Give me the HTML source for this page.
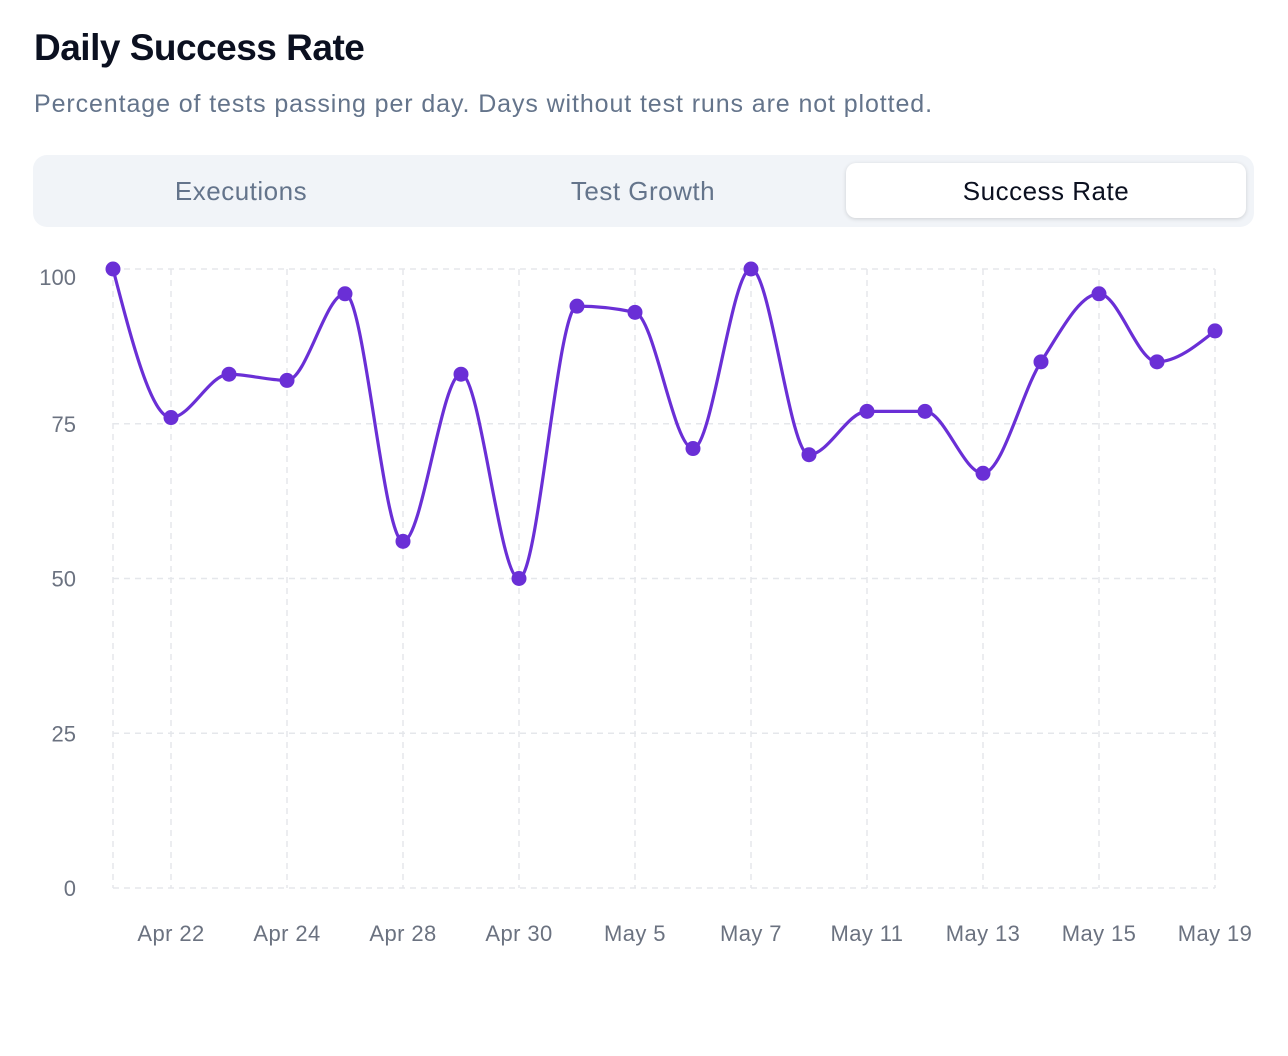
<!DOCTYPE html>
<html><head><meta charset="utf-8"><style>
body{margin:0;background:#fff;font-family:"Liberation Sans",sans-serif;width:1288px;height:1056px;overflow:hidden;position:relative}
h1{position:absolute;left:34px;top:27px;margin:0;font-size:37px;font-weight:bold;color:#0b1020;letter-spacing:-0.5px}
.sub{position:absolute;left:34px;top:90px;font-size:25px;letter-spacing:0.9px;color:#64748b}
.tabs{position:absolute;left:33px;top:155px;width:1221px;height:72px;background:#f1f4f8;border-radius:14px}
.tab{position:absolute;top:8px;height:55px;width:400px;line-height:57px;text-align:center;font-size:26px;letter-spacing:0.5px;color:#64748b;border-radius:10px}
.tab.active{background:#fff;color:#0b1020;box-shadow:0 1px 4px rgba(0,0,0,0.15)}
svg{position:absolute;left:0;top:0}
</style></head><body>
<h1>Daily Success Rate</h1>
<div class="sub">Percentage of tests passing per day. Days without test runs are not plotted.</div>
<div class="tabs">
<div class="tab" style="left:8px">Executions</div>
<div class="tab" style="left:410px">Test Growth</div>
<div class="tab active" style="left:813px">Success Rate</div>
</div>
<svg id="chart" width="1288" height="1056"></svg>
<script>
const categories=["Apr 21","Apr 22","Apr 23","Apr 24","Apr 26","Apr 28","Apr 29","Apr 30","May 2","May 5","May 6","May 7","May 10","May 11","May 12","May 13","May 14","May 15","May 17","May 19"];
const successValues=[100,76,83,82,96,56,83,50,94,93,71,100,70,77,77,67,85,96,85,90];
const yTicks=[0,25,50,75,100];
const xTickLabels=["Apr 22","Apr 24","Apr 28","Apr 30","May 5","May 7","May 11","May 13","May 15","May 19"];

const svg=document.getElementById('chart');
const NS='http://www.w3.org/2000/svg';
const x0=113,x1=1215,y0=888,y1=269;
const xS=i=>x0+(x1-x0)*i/(categories.length-1);
const yS=v=>y0-(y0-y1)*v/100;
function mk(t,a){const e=document.createElementNS(NS,t);for(const k in a)e.setAttribute(k,a[k]);svg.appendChild(e);return e;}
yTicks.forEach(v=>{
  const l=mk('line',{x1:x0,x2:x1,y1:yS(v),y2:yS(v),stroke:'#e5e7eb','stroke-width':1.5,'stroke-dasharray':'6 5'});
  
  
  const t=mk('text',{x:76,y:yS(v)+8+(v===100?8:0),'text-anchor':'end','font-size':22,fill:'#6b7280'});
  t.textContent=v;
  
  
});
const vx=[0];categories.forEach((c,i)=>{if(xTickLabels.includes(c))vx.push(i)});vx.push(categories.length-1);
[...new Set(vx)].forEach(i=>{
  const l=mk('line',{x1:xS(i),x2:xS(i),y1:y1,y2:y0,stroke:'#e5e7eb','stroke-width':1.5,'stroke-dasharray':'6 5'});
  
  
});
categories.forEach((c,i)=>{
  if(!xTickLabels.includes(c))return;
  const t=mk('text',{x:xS(i),y:941,'text-anchor':'middle','font-size':22,'letter-spacing':0.4,fill:'#6b7280'});
  t.textContent=c;
  
  
});
const P=successValues.map((v,i)=>[xS(i),yS(v)]);
const n=P.length,m=[],d=[];
for(let i=0;i<n-1;i++)d.push((P[i+1][1]-P[i][1])/(P[i+1][0]-P[i][0]));
for(let i=0;i<n;i++){
  if(i==0)m.push(d[0]);else if(i==n-1)m.push(d[n-2]);
  else{const a=d[i-1],b=d[i];if(a*b<=0)m.push(0);else{const h0=P[i][0]-P[i-1][0],h1=P[i+1][0]-P[i][0];const p=(a*h1+b*h0)/(h0+h1);m.push((Math.sign(a)+Math.sign(b))*Math.min(Math.abs(a),Math.abs(b),0.5*Math.abs(p)));}}
}
m[0]=(3*d[0]-m[1])/2; m[n-1]=(3*d[n-2]-m[n-2])/2;
let pd='M'+P[0][0]+','+P[0][1];
for(let i=0;i<n-1;i++){const h=(P[i+1][0]-P[i][0])/3;pd+=` C${P[i][0]+h},${P[i][1]+m[i]*h} ${P[i+1][0]-h},${P[i+1][1]-m[i+1]*h} ${P[i+1][0]},${P[i+1][1]}`;}
const line=mk('path',{d:pd,fill:'none',stroke:'#6a2fd6','stroke-width':3.2});


P.forEach(p=>{
  const c=mk('circle',{cx:p[0],cy:p[1],r:7.5,fill:'#6a2fd6'});
  
  
});
</script>
</body></html>
